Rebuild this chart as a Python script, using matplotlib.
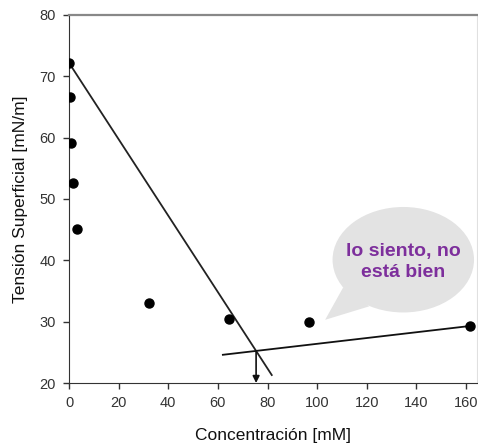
import numpy as np
import matplotlib.pyplot as plt
from matplotlib.patches import Ellipse, Polygon

plt.rcParams['font.family'] = ['Liberation Sans', 'DejaVu Sans']

# concentración [mM] y tensión superficial [mN/m]
conc = [0.0, 0.5, 0.8, 1.7, 3.3, 32.4, 64.6, 96.9, 161.7]
tension = [72.2, 66.6, 59.1, 52.6, 45.1, 33.0, 30.4, 29.9, 29.3]

# rectas de ajuste (extremos)
recta1_x = [0.0, 81.7]
recta1_y = [72.2, 21.3]
recta2_x = [62.0, 161.7]
recta2_y = [24.6, 29.3]

xticks = [0, 20, 40, 60, 80, 100, 120, 140, 160]
yticks = [20, 30, 40, 50, 60, 70, 80]

fig = plt.figure(figsize=(4.78, 4.48), dpi=100)
ax = fig.add_axes([69/478, 65/448, 408/478, 368/448])

ax.plot(recta1_x, recta1_y, color='#222222', lw=1.3)
ax.plot(recta2_x, recta2_y, color='#111111', lw=1.3)
ax.plot(conc, tension, 'o', color='black', ms=6.5, zorder=5)

# punto de corte de las dos rectas -> CMC
m1 = (recta1_y[1] - recta1_y[0]) / (recta1_x[1] - recta1_x[0])
m2 = (recta2_y[1] - recta2_y[0]) / (recta2_x[1] - recta2_x[0])
b1 = recta1_y[0] - m1 * recta1_x[0]
b2 = recta2_y[0] - m2 * recta2_x[0]
xc = (b2 - b1) / (m1 - m2)
yc = m1 * xc + b1
ax.annotate('', xy=(xc, 20), xytext=(xc, yc),
            arrowprops=dict(arrowstyle='-|>', color='#111111', lw=1.2,
                            mutation_scale=10, shrinkA=0, shrinkB=0))

# globo de texto
ax.add_patch(Ellipse((134.7, 40.1), 57.0, 17.2, facecolor='#e3e3e3',
                     edgecolor='none', zorder=1))
ax.add_patch(Polygon([(110.5, 35.6), (121.0, 32.5), (103.2, 30.3)],
                     closed=True, facecolor='#e3e3e3', edgecolor='none', zorder=1))
ax.text(134.7, 39.7, 'lo siento, no\nestá bien', ha='center', va='center',
        fontsize=14, fontweight='bold', color='#7d2f9c', linespacing=1.3,
        zorder=2)

ax.set_xlim(0, 164.4)
ax.set_ylim(20, 80)
ax.set_xticks(xticks)
ax.set_yticks(yticks)
ax.tick_params(direction='out', length=4.5, width=1, colors='#333333',
               labelsize=10.5, pad=5)

ax.spines['left'].set_color('#333333')
ax.spines['bottom'].set_color('#333333')
ax.spines['top'].set_color('#888888')
ax.spines['top'].set_linewidth(1.6)
ax.spines['right'].set_color('#e0e0e0')

ax.set_xlabel('Concentración [mM]', fontsize=12.5, color='#111111', labelpad=13)
ax.set_ylabel('Tensión Superficial [mN/m]', fontsize=12.5, color='#111111', labelpad=8)

fig.savefig('out.png', dpi=100)
